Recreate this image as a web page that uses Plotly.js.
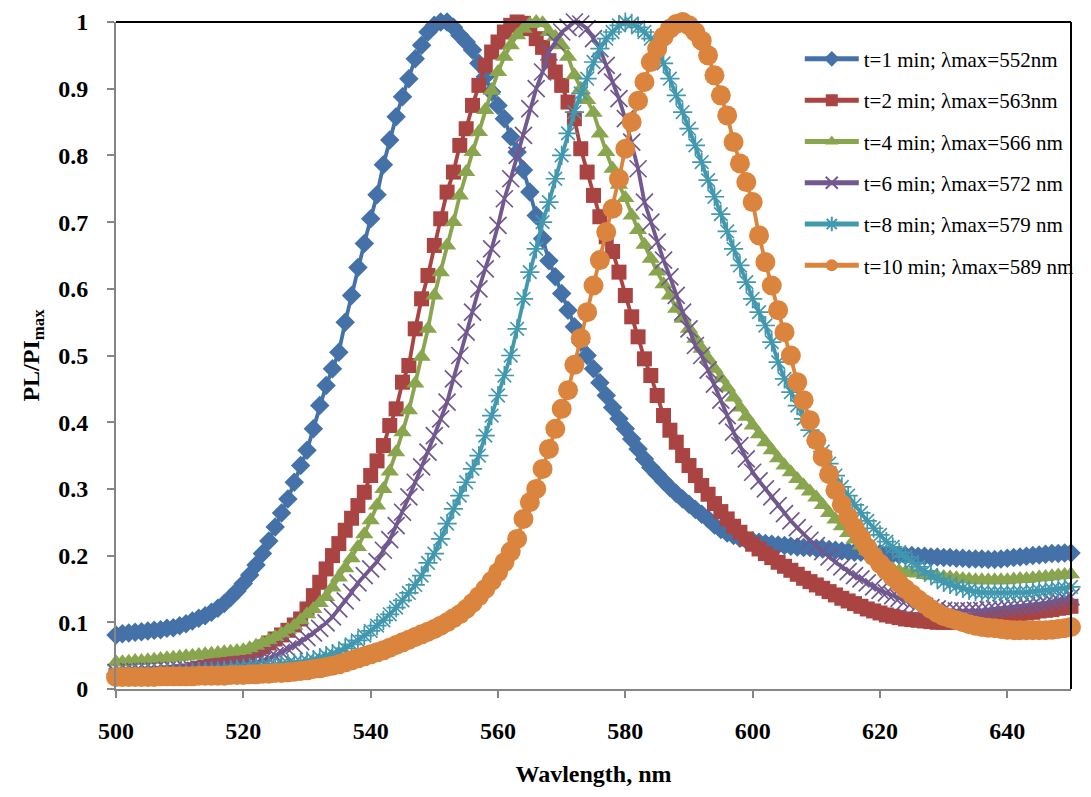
<!DOCTYPE html>
<html>
<head>
<meta charset="utf-8">
<script src="https://cdn.plot.ly/plotly-3.0.1.min.js"></script>
<style>html,body{margin:0;padding:0;background:#fff;}#chart{width:1091px;height:797px;}</style>
</head>
<body>
<div id="chart"></div>
<script>
const wavelength = [500,501,502,503,504,505,506,507,508,509,510,511,512,513,514,515,516,517,518,519,520,521,522,523,524,525,526,527,528,529,530,531,532,533,534,535,536,537,538,539,540,541,542,543,544,545,546,547,548,549,550,551,552,553,554,555,556,557,558,559,560,561,562,563,564,565,566,567,568,569,570,571,572,573,574,575,576,577,578,579,580,581,582,583,584,585,586,587,588,589,590,591,592,593,594,595,596,597,598,599,600,601,602,603,604,605,606,607,608,609,610,611,612,613,614,615,616,617,618,619,620,621,622,623,624,625,626,627,628,629,630,631,632,633,634,635,636,637,638,639,640,641,642,643,644,645,646,647,648,649,650];

const t1 = [.081,.083,.084,.085,.086,.087,.088,.089,.091,.092,
.095,.098,.102,.106,.110,.115,.121,.128,.137,.147,
.158,.171,.186,.203,.222,.243,.264,.285,.310,.335,
.358,.390,.425,.455,.480,.505,.550,.590,.632,.668,
.705,.741,.786,.823,.858,.888,.915,.945,.965,.985,
.995,1.0,1.0,.992,.980,.970,.958,.938,.918,.895,
.875,.855,.828,.805,.778,.745,.710,.675,.642,.618,
.593,.568,.543,.520,.500,.480,.459,.440,.422,.405,
.390,.375,.360,.345,.332,.322,.312,.302,.293,.285,
.277,.269,.262,.255,.246,.239,.234,.230,.226,.223,
.222,.220,.218,.217,.216,.215,.214,.213,.212,.212,
.211,.210,.209,.208,.207,.206,.205,.205,.204,.204,
.203,.202,.202,.201,.200,.200,.199,.199,.198,.198,
.197,.197,.196,.196,.195,.195,.195,.194,.194,.195,
.196,.197,.198,.199,.200,.201,.202,.203,.203,.204,.204];

const t2 = [.020,.020,.020,.021,.021,.022,.022,.023,.024,.025,
.026,.027,.029,.031,.033,.035,.038,.041,.044,.047,
.050,.054,.058,.063,.069,.075,.081,.088,.096,.105,
.120,.140,.160,.180,.200,.218,.238,.256,.275,.295,
.320,.342,.365,.395,.420,.460,.485,.540,.585,.620,
.665,.705,.745,.775,.815,.840,.875,.905,.935,.955,
.970,.985,.995,1.0,.998,.990,.975,.962,.942,.925,
.905,.880,.855,.810,.775,.740,.708,.678,.656,.625,
.590,.558,.528,.495,.470,.440,.410,.388,.370,.350,
.335,.320,.305,.292,.278,.266,.255,.244,.235,.225,
.217,.210,.203,.197,.190,.184,.178,.172,.166,.161,
.156,.151,.146,.141,.136,.132,.128,.124,.120,.117,
.114,.111,.109,.107,.105,.104,.103,.102,.101,.100,
.100,.100,.100,.101,.102,.103,.104,.105,.107,.108,
.110,.111,.113,.114,.115,.117,.118,.119,.121,.122,.124];

const t4 = [.040,.040,.041,.042,.042,.043,.044,.045,.046,.047,
.048,.049,.050,.051,.052,.053,.054,.055,.056,.057,
.058,.061,.065,.069,.073,.078,.083,.089,.095,.103,
.112,.120,.129,.138,.152,.167,.181,.196,.213,.232,
.253,.275,.300,.326,.355,.385,.418,.458,.498,.540,
.590,.625,.665,.700,.740,.775,.805,.835,.868,.897,
.925,.948,.965,.980,.990,.997,1.0,.998,.985,.978,
.965,.948,.920,.900,.883,.864,.833,.805,.780,.756,
.736,.710,.688,.666,.645,.626,.607,.590,.570,.555,
.540,.525,.510,.495,.480,.466,.452,.437,.422,.408,
.395,.382,.370,.358,.346,.335,.325,.315,.305,.296,
.287,.276,.264,.254,.244,.234,.224,.215,.207,.200,
.192,.186,.180,.177,.175,.174,.173,.171,.170,.169,
.168,.167,.166,.165,.164,.163,.163,.163,.163,.163,
.163,.164,.165,.165,.166,.167,.168,.169,.170,.171,.172];

const t6 = [.025,.025,.026,.026,.026,.027,.027,.027,.028,.028,
.028,.029,.029,.030,.030,.031,.031,.032,.033,.034,
.035,.037,.039,.042,.046,.050,.055,.060,.065,.071,
.077,.084,.091,.099,.108,.120,.132,.145,.159,.170,
.180,.191,.208,.224,.245,.265,.288,.310,.333,.355,
.380,.405,.430,.465,.500,.535,.565,.600,.630,.660,
.695,.735,.765,.800,.830,.870,.900,.925,.955,.970,
.985,.992,1.0,.997,.990,.975,.960,.935,.910,.885,
.855,.820,.780,.730,.700,.670,.643,.618,.590,.565,
.540,.515,.500,.478,.457,.433,.410,.385,.365,.345,
.325,.312,.300,.288,.275,.263,.252,.242,.232,.223,
.215,.206,.198,.190,.183,.176,.170,.165,.159,.153,
.148,.144,.140,.136,.132,.129,.126,.124,.122,.120,
.118,.117,.117,.117,.117,.118,.118,.119,.120,.121,
.122,.123,.124,.125,.126,.127,.129,.131,.133,.135,.138];

const t8 = [.022,.022,.022,.022,.023,.023,.023,.023,.024,.024,
.024,.025,.025,.026,.026,.027,.027,.028,.029,.030,
.031,.032,.033,.034,.035,.036,.037,.038,.039,.040,
.042,.044,.047,.050,.053,.056,.061,.067,.073,.080,
.087,.095,.103,.112,.122,.133,.144,.156,.170,.189,
.203,.225,.248,.270,.290,.310,.330,.350,.380,.410,
.440,.470,.500,.540,.585,.625,.660,.700,.730,.765,
.800,.833,.865,.893,.915,.940,.960,.975,.985,.995,
1.0,.998,.992,.985,.975,.962,.938,.915,.890,.865,
.840,.815,.790,.763,.738,.712,.686,.660,.635,.610,
.585,.565,.545,.520,.490,.465,.445,.425,.405,.388,
.372,.356,.338,.320,.303,.290,.276,.264,.252,.241,
.231,.221,.213,.205,.198,.190,.183,.177,.171,.166,
.160,.157,.154,.151,.148,.146,.145,.144,.144,.144,
.144,.144,.145,.145,.146,.147,.148,.149,.150,.151,.153];

const t10 = [.018,.018,.018,.018,.018,.018,.018,.019,.019,.019,
.019,.019,.019,.020,.020,.020,.020,.020,.021,.021,
.021,.022,.022,.023,.023,.024,.024,.025,.026,.027,
.028,.030,.031,.033,.035,.037,.040,.043,.046,.049,
.052,.055,.058,.062,.066,.070,.074,.078,.082,.086,
.090,.095,.100,.106,.112,.120,.129,.139,.150,.162,
.175,.190,.206,.225,.255,.280,.300,.330,.360,.390,
.420,.448,.486,.526,.565,.605,.643,.685,.720,.765,
.810,.850,.882,.910,.940,.960,.978,.990,.997,1.0,
.995,.985,.972,.950,.920,.890,.860,.820,.788,.760,
.730,.680,.640,.605,.568,.535,.500,.460,.433,.403,
.373,.348,.322,.298,.277,.258,.242,.227,.212,.199,
.188,.178,.168,.159,.150,.142,.134,.127,.120,.114,
.109,.106,.103,.100,.097,.095,.093,.092,.091,.090,
.089,.088,.088,.088,.088,.088,.088,.089,.090,.091,.093];

const seriesNames = ["t=1 min; \u03bbmax=552nm","t=2 min; \u03bbmax=563nm","t=4 min; \u03bbmax=566 nm","t=6 min; \u03bbmax=572 nm","t=8 min; \u03bbmax=579 nm","t=10 min; \u03bbmax=589 nm"];
const xTicks = [500,520,540,560,580,600,620,640];

const seriesData = [t1,t2,t4,t6,t8,t10];
const colors = ['#4472A8','#A94442','#89A54E','#71588F','#4198AF','#DB843D'];
const symbols = ['diamond','square','triangle-up','x-thin-open','asterisk-open','circle'];
const sizes = [15,15,16,17,16,20];

const traces = seriesData.map((y,i)=>{
  const open = symbols[i].indexOf('open')>=0;
  return {
    type:'scatter', mode:'lines+markers', x:wavelength, y:y, name:seriesNames[i],
    legendgroup:'g'+i, cliponaxis:false,
    line:{color:colors[i], width:3.8},
    marker:{symbol:symbols[i], size:sizes[i], color:colors[i],
      line:{color:colors[i], width: open?1.7:0}}
  };
});

const serif = 'Liberation Serif, Times New Roman, serif';
const layout = {
  width:1091, height:797,
  margin:{l:116, r:15, t:22, b:108, pad:0},
  paper_bgcolor:'#ffffff', plot_bgcolor:'#ffffff',
  showlegend:true,
  legend:{x:0.716, xanchor:'left', y:0.975, yanchor:'top', bgcolor:'rgba(0,0,0,0)',
    font:{family:serif, size:21, color:'#000'}, traceorder:'grouped', tracegroupgap:11,
    itemsizing:'constant', itemwidth:54},
  xaxis:{range:[500,650], tickvals:xTicks, showline:true, linecolor:'#868686', linewidth:2,
    ticks:'outside', ticklen:7, tickwidth:2, tickcolor:'#868686', showgrid:false, zeroline:false,
    tickfont:{family:serif, size:24, color:'#000', weight:'bold'}, ticklabelstandoff:12,
    title:{text:'Wavlength, nm', font:{family:serif, size:24, color:'#000', weight:'bold'}, standoff:22}},
  yaxis:{range:[0,1], tick0:0, dtick:0.1, showline:true, linecolor:'#868686', linewidth:2,
    ticks:'outside', ticklen:7, tickwidth:2, tickcolor:'#868686', showgrid:false, zeroline:false,
    tickfont:{family:serif, size:24, color:'#000', weight:'bold'}, ticklabelstandoff:14,
    title:{text:'PL/PI<sub>max</sub>', font:{family:serif, size:24, color:'#000', weight:'bold'}, standoff:12}},
  shapes:[
    {type:'line', xref:'paper', yref:'paper', x0:0, x1:1, y0:1, y1:1, line:{color:'#000', width:2}},
    {type:'line', xref:'paper', yref:'paper', x0:1, x1:1, y0:0, y1:1, line:{color:'#000', width:2}}
  ]
};

Plotly.newPlot('chart', traces, layout, {displayModeBar:false, staticPlot:true});
</script>
</body>
</html>
